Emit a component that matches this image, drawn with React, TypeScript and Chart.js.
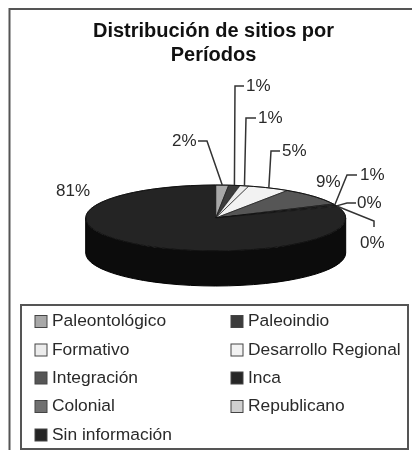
import React, { useEffect, useRef } from "react";
import { Chart, registerables } from "chart.js";

Chart.register(...registerables);

const categories = ["Paleontológico", "Paleoindio", "Formativo", "Desarrollo Regional", "Integración", "Inca", "Colonial", "Republicano", "Sin información"];
const shares = [1.6, 1.4, 1.1, 5.2, 8.7, 0.9, 0.2, 0.2, 80.7];
const sliceColors = ["#a8a8a8", "#3c3c3c", "#ececec", "#f2f2f2", "#565656", "#262626", "#707070", "#d0d0d0", "#242424"];
const sideColors = ["#777777", "#222222", "#aaaaaa", "#b0b0b0", "#303030", "#111111", "#444444", "#999999", "#0c0c0c"];
const chartTitle = ["Distribución de sitios por", "Períodos"];

const FONT = '"Liberation Sans", Arial, sans-serif';
const PIE = { cx: 215.7, cy: 218, rx: 130, k: 33 / 130, depth: 35 };

// Callout layout per slice: label anchor [x (left), y (middle)] and leader elbows
const callouts: { at: [number, number]; elbows: [number, number][] | null }[] = [
  { at: [172, 141], elbows: [[198, 141], [207, 141]] },
  { at: [246, 86], elbows: [[244, 86], [235, 86]] },
  { at: [258, 118], elbows: [[256, 118], [246, 118]] },
  { at: [282, 151], elbows: [[280, 151], [271, 151]] },
  { at: [316, 182], elbows: null },
  { at: [360, 175], elbows: [[357, 175], [347, 175]] },
  { at: [357, 203], elbows: [[356, 203], [347, 203]] },
  { at: [360, 243], elbows: [[374, 227], [374, 221]] },
  { at: [56, 191], elbows: null },
];

const legendColumns = [35, 231];
const legendRows = [321.5, 350, 378, 406.5, 435];

const piePlugin = {
  id: "pie3d",
  beforeDatasetsDraw(chart: any) {
    const { ctx } = chart;
    const meta = chart.getDatasetMeta(0);
    const { cx, cy, rx, k, depth } = PIE;
    const ry = rx * k;
    // extruded wall, visible front half only
    meta.data.forEach((arc: any, i: number) => {
      const a = Math.max(arc.startAngle, 0);
      const b = Math.min(arc.endAngle, Math.PI);
      if (b <= a) return;
      ctx.save();
      ctx.beginPath();
      ctx.ellipse(cx, cy, rx, ry, 0, a, b);
      ctx.ellipse(cx, cy + depth, rx, ry, 0, b, a, true);
      ctx.closePath();
      ctx.fillStyle = sideColors[i];
      ctx.fill();
      ctx.restore();
    });
    ctx.save();
    ctx.beginPath();
    ctx.ellipse(cx, cy + depth, rx, ry, 0, 0, Math.PI);
    ctx.moveTo(cx - rx, cy);
    ctx.lineTo(cx - rx, cy + depth);
    ctx.moveTo(cx + rx, cy);
    ctx.lineTo(cx + rx, cy + depth);
    ctx.strokeStyle = "#000";
    ctx.lineWidth = 1;
    ctx.stroke();
    ctx.restore();

    const first = meta.data[0];
    ctx.save();
    ctx.translate(cx, cy);
    ctx.scale(1, k);
    ctx.translate(-first.x, -first.y);
  },
  afterDatasetsDraw(chart: any) {
    const { ctx, width, height } = chart;
    ctx.restore();
    const meta = chart.getDatasetMeta(0);
    const { cx, cy, rx, k } = PIE;
    const ry = rx * k;

    ctx.save();
    ctx.beginPath();
    ctx.ellipse(cx, cy, rx, ry, 0, 0, Math.PI * 2);
    ctx.strokeStyle = "#111";
    ctx.lineWidth = 1;
    ctx.stroke();

    // callouts
    ctx.strokeStyle = "#333";
    ctx.lineWidth = 1.5;
    ctx.font = `17px ${FONT}`;
    ctx.fillStyle = "#2a2a2a";
    ctx.textBaseline = "middle";
    ctx.textAlign = "left";
    meta.data.forEach((arc: any, i: number) => {
      const c = callouts[i];
      if (c.elbows) {
        const mid = (arc.startAngle + arc.endAngle) / 2;
        ctx.beginPath();
        ctx.moveTo(c.elbows[0][0], c.elbows[0][1]);
        c.elbows.slice(1).forEach((p) => ctx.lineTo(p[0], p[1]));
        ctx.lineTo(cx + rx * Math.cos(mid), cy + ry * Math.sin(mid));
        ctx.stroke();
      }
      ctx.fillText(`${Math.round(shares[i])}%`, c.at[0], c.at[1]);
    });

    // outer frame
    ctx.strokeStyle = "#555";
    ctx.lineWidth = 2;
    ctx.beginPath();
    ctx.moveTo(width + 2, 9);
    ctx.lineTo(9.5, 9);
    ctx.lineTo(9.5, height + 2);
    ctx.stroke();

    // legend box
    ctx.fillStyle = "#fff";
    ctx.fillRect(21, 305, 387, 144);
    ctx.strokeRect(21, 305, 387, 144);

    ctx.font = `17.4px ${FONT}`;
    ctx.textBaseline = "middle";
    categories.forEach((name, i) => {
      const col = legendColumns[i % 2];
      const row = legendRows[Math.floor(i / 2)];
      ctx.fillStyle = sliceColors[i];
      ctx.fillRect(col, row - 6, 12, 12);
      ctx.strokeStyle = "#444";
      ctx.lineWidth = 1;
      ctx.strokeRect(col, row - 6, 12, 12);
      ctx.fillStyle = "#2a2a2a";
      ctx.fillText(name, col + 17, row);
    });
    ctx.restore();
  },
};

export default function App() {
  const ref = useRef<HTMLCanvasElement>(null);
  useEffect(() => {
    const chart = new Chart(ref.current!, {
      type: "pie",
      data: {
        labels: categories,
        datasets: [
          {
            data: shares,
            backgroundColor: sliceColors,
            borderColor: "#111",
            borderWidth: 1,
            radius: PIE.rx,
          } as any,
        ],
      },
      options: {
        responsive: false,
        animation: false,
        layout: { padding: { left: 15 } },
        plugins: {
          legend: { display: false },
          tooltip: { enabled: false },
          title: {
            display: true,
            text: chartTitle,
            color: "#111",
            font: { family: FONT, size: 20, weight: "bold", lineHeight: 1.2 },
            padding: { top: 19, bottom: 10 },
          },
        },
      },
      plugins: [piePlugin],
    } as any);
    return () => chart.destroy();
  }, []);
  return (
    <div style={{ position: "absolute", left: 0, top: 0, width: 412, height: 450, background: "#fff" }}>
      <canvas ref={ref} width={412} height={450} style={{ display: "block", filter: "blur(0.5px)" }} />
    </div>
  );
}
